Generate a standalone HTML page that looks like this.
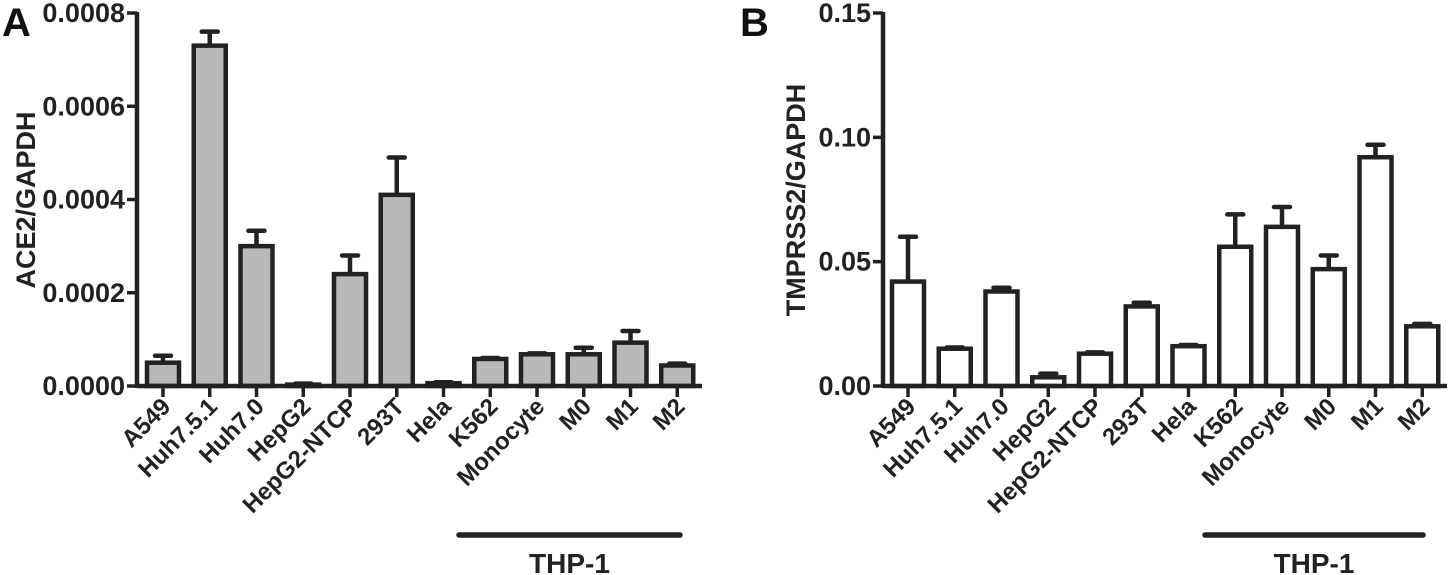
<!DOCTYPE html>
<html><head><meta charset="utf-8"><style>
body{margin:0;background:#fff;}
svg{display:block;font-family:"Liberation Sans",Arial,sans-serif;font-weight:bold;}
</style></head><body>
<svg id="chart" width="1450" height="575" viewBox="0 0 1450 575"></svg>
<script>
const categories=["A549","Huh7.5.1","Huh7.0","HepG2","HepG2-NTCP","293T","Hela","K562","Monocyte","M0","M1","M2"];
const aceValues=[0.00005,0.00073,0.0003,0.000003,0.00024,0.00041,0.000006,0.000058,0.000068,0.000068,0.000093,0.000044];
const aceErrTop=[0.000065,0.00076,0.000333,0.000005,0.00028,0.00049,0.000008,0.00006,0.00007,0.000082,0.000118,0.000048];
const aceTicks=[0,0.0002,0.0004,0.0006,0.0008];
const aceTickLabels=["0.0000","0.0002","0.0004","0.0006","0.0008"];
const tmpValues=[0.042,0.015,0.038,0.0035,0.013,0.032,0.016,0.056,0.064,0.047,0.092,0.024];
const tmpErrTop=[0.06,0.0155,0.0395,0.005,0.0135,0.0335,0.0165,0.069,0.072,0.0525,0.097,0.025];
const tmpTicks=[0,0.05,0.10,0.15];
const tmpTickLabels=["0.00","0.05","0.10","0.15"];
const NS="http://www.w3.org/2000/svg";
const svg=document.getElementById('chart');
function mk(tag,attrs,parent){const e=document.createElementNS(NS,tag);for(const k in attrs)e.setAttribute(k,attrs[k]);(parent||svg).appendChild(e);return e;}
const C="#222";
function panel(p){
  const g=mk('g',{});
  
  
  const base=386,top=13;
  const y=v=>base-(v/p.max)*(base-top);
  const x=i=>p.x0+i*46.75;
  const L=mk('text',{x:p.letterX,y:36,'font-size':40,fill:'#111'},g);L.textContent=p.letter;
  
  
  const yt=mk('text',{transform:`translate(${p.titleX},200) rotate(-90)`,'text-anchor':'middle','font-size':27,fill:'#222'},g);yt.textContent=p.title;
  
  
  p.values.forEach((v,i)=>{
    const cx=x(i);
    const eb=mk('line',{x1:cx,x2:cx,y1:y(v),y2:y(p.err[i]),stroke:C,'stroke-width':4.5},g);
    
    
    const cap=mk('line',{x1:cx-8,x2:cx+8,y1:y(p.err[i]),y2:y(p.err[i]),stroke:C,'stroke-width':4.5,'stroke-linecap':'round'},g);
    
    
    const h=Math.max(base-y(v),1);
    const b=mk('rect',{x:cx-16,y:base-h,width:32,height:h,fill:p.fill,stroke:C,'stroke-width':4.5},g);
    
    
    const tk=mk('line',{x1:cx,x2:cx,y1:base,y2:base+11,stroke:C,'stroke-width':3.5},g);
    
    
    const t=mk('text',{transform:`translate(${cx+9},${base+22}) rotate(-45)`,'text-anchor':'end','font-size':24,fill:'#222'},g);
    t.textContent=categories[i];
    
    
  });
  const ya=mk('line',{x1:p.ax,x2:p.ax,y1:top-1,y2:base+2,stroke:C,'stroke-width':4.5},g);
  
  
  const xa=mk('line',{x1:p.ax,x2:p.axEnd,y1:base,y2:base,stroke:C,'stroke-width':4.5},g);
  
  
  p.ticks.forEach((tv,i)=>{
    const ty=y(tv);
    const tl=mk('line',{x1:p.ax-10,x2:p.ax,y1:ty,y2:ty,stroke:C,'stroke-width':3.5},g);
    
    
    const tt=mk('text',{x:p.ax-12,y:ty+9,'text-anchor':'end','font-size':27,fill:'#222'},g);
    tt.textContent=p.tickLabels[i];
    
    
  });
  const gl=mk('line',{x1:p.thp[0],x2:p.thp[1],y1:535,y2:535,stroke:C,'stroke-width':5.5,'stroke-linecap':'round'},g);
  
  
  const gt=mk('text',{x:(p.thp[0]+p.thp[1])/2,y:573,'text-anchor':'middle','font-size':28,fill:'#222'},g);
  gt.textContent='THP-1';
  
  
}
panel({id:'ace2',letter:'A',letterX:2,title:'ACE2/GAPDH',titleX:35,x0:163,ax:137,axEnd:702,max:0.0008,values:aceValues,err:aceErrTop,ticks:aceTicks,tickLabels:aceTickLabels,fill:'#b9b9b9',thp:[459,680]});
panel({id:'tmprss2',letter:'B',letterX:740,title:'TMPRSS2/GAPDH',titleX:805,x0:908,ax:883,axEnd:1447,max:0.15,values:tmpValues,err:tmpErrTop,ticks:tmpTicks,tickLabels:tmpTickLabels,fill:'#fff',thp:[1205,1423]});
</script>
</body></html>
